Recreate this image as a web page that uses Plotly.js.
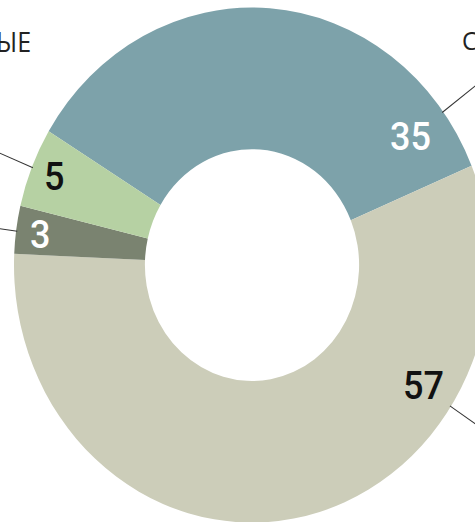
<!DOCTYPE html>
<html><head><meta charset="utf-8">
<script src="https://cdn.plot.ly/plotly-3.0.1.min.js"></script>
<style>
html,body{margin:0;padding:0;overflow:hidden;background:#fff;width:475px;height:522px}
#chart{width:520px;height:494px;transform:scaleY(1.082);transform-origin:0 0}
</style>
</head><body><div id="chart"></div>
<script>
// Data (clockwise order, starting with the blue slice)
const categories = ["С", "B", "C", "ЫЕ"];
const values = [35, 57, 3, 5];
const valueLabels = ["35", "57", "3", "5"];
const sliceColors = ["#7DA2AA", "#CCCDB9", "#7A8370", "#B6D1A3"];
const labelColors = ["#ffffff", "#111111", "#ffffff", "#111111"];
// Where each number / leader line sits: fraction along the slice, and radius (fraction of outer radius)
const labelFrac = [0.89, 0.273, 0.47, 0.5];
const labelRad = [0.83, 0.86, 0.9, 0.9];
// Partially visible outer category labels (cropped in the reference)
const outerTexts = ["ЫЕ", "С"];

const ROT = -58.7, LEND = 1.35;
const total = values.reduce((a, b) => a + b, 0);
const annotations = [], shapes = [];
let cum = 0;
values.forEach((v, i) => {
  const a0 = ROT + cum / total * 360;
  const span = v / total * 360;
  const ang = (a0 + labelFrac[i] * span) * Math.PI / 180;
  cum += v;
  const sx = Math.sin(ang), cy = Math.cos(ang);
  annotations.push({
    xref: 'paper', yref: 'paper', x: 0.5 + 0.5 * labelRad[i] * sx, y: 0.5 + 0.5 * labelRad[i] * cy,
    text: valueLabels[i], showarrow: false, xanchor: 'center', yanchor: 'middle',
    font: {family: 'Roboto, Liberation Sans, Arial, sans-serif', size: 36, weight: 500, color: labelColors[i]}
  });
  shapes.push({
    type: 'line', xref: 'paper', yref: 'paper',
    x0: 0.5 + 0.5 * 0.995 * sx, y0: 0.5 + 0.5 * 0.995 * cy,
    x1: 0.5 + 0.5 * LEND * sx, y1: 0.5 + 0.5 * LEND * cy,
    line: {color: '#333333', width: 1}
  });
});
annotations.push({xref: 'paper', yref: 'paper', x: 0.04, y: 0.935, text: outerTexts[0],
  showarrow: false, xanchor: 'right', yanchor: 'middle',
  font: {family: 'Open Sans, sans-serif', size: 25, color: '#222'}});
annotations.push({xref: 'paper', yref: 'paper', x: 0.937, y: 0.937, text: outerTexts[1],
  showarrow: false, xanchor: 'left', yanchor: 'middle',
  font: {family: 'Open Sans, sans-serif', size: 24, color: '#222'}});

const trace = {
  type: 'pie', labels: categories, values: values, hole: 0.45,
  sort: false, direction: 'clockwise', rotation: ROT,
  marker: {colors: sliceColors, line: {width: 0}},
  textinfo: 'none', hoverinfo: 'skip', showlegend: false
};
const layout = {
  width: 520, height: 494,
  margin: {l: 14, r: 30, t: 7, b: 11},
  paper_bgcolor: 'rgba(0,0,0,0)', plot_bgcolor: 'rgba(0,0,0,0)',
  showlegend: false, hovermode: false,
  annotations: annotations, shapes: shapes
};
Plotly.newPlot('chart', [trace], layout, {displayModeBar: false, staticPlot: true});
</script></body></html>
